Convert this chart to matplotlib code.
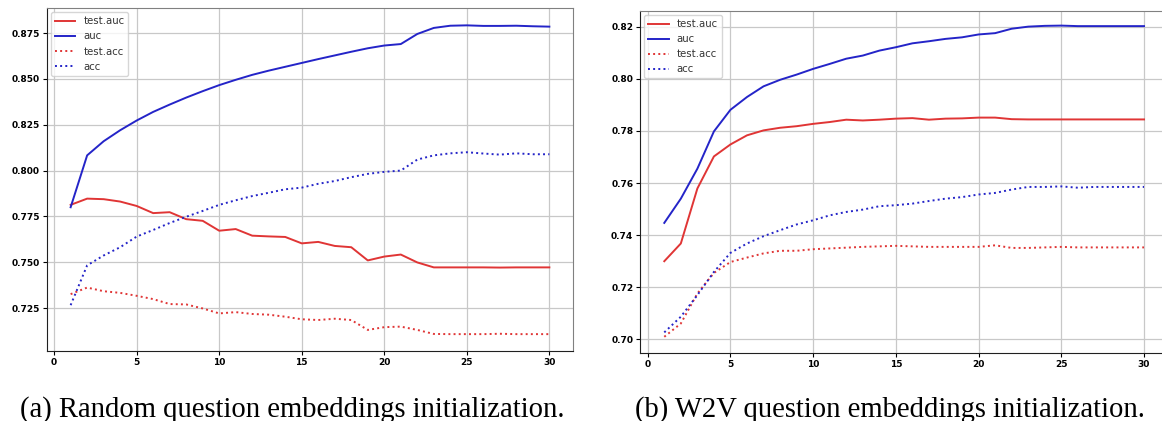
import numpy as np
import matplotlib
matplotlib.use("Agg")
import matplotlib.pyplot as plt

# ---------------------------------------------------------------------------
# Data (epochs 1..30)
# ---------------------------------------------------------------------------
epochs = list(range(1, 31))

# (a) random question embeddings
rand_test_auc = [0.7813, 0.7847, 0.7844, 0.7831, 0.7807, 0.7768, 0.7773, 0.7735, 0.7726, 0.7672,
                 0.7681, 0.7645, 0.7641, 0.7638, 0.7603, 0.7611, 0.7589, 0.7582, 0.7510, 0.7531,
                 0.7542, 0.7499, 0.7472, 0.7472, 0.7472, 0.7472, 0.7471, 0.7472, 0.7472, 0.7472]
rand_auc = [0.7800, 0.8083, 0.8160, 0.8220, 0.8273, 0.8320, 0.8360, 0.8398, 0.8433, 0.8466,
            0.8495, 0.8522, 0.8545, 0.8566, 0.8587, 0.8608, 0.8628, 0.8648, 0.8667, 0.8682,
            0.8690, 0.8745, 0.8778, 0.8790, 0.8792, 0.8789, 0.8789, 0.8790, 0.8787, 0.8785]
rand_test_acc = [0.7326, 0.7362, 0.7342, 0.7333, 0.7317, 0.7299, 0.7272, 0.7270, 0.7248, 0.7221,
                 0.7228, 0.7218, 0.7214, 0.7203, 0.7189, 0.7185, 0.7192, 0.7185, 0.7131, 0.7146,
                 0.7149, 0.7131, 0.7109, 0.7108, 0.7108, 0.7108, 0.7110, 0.7108, 0.7108, 0.7108]
rand_acc = [0.7266, 0.7483, 0.7537, 0.7582, 0.7640, 0.7676, 0.7714, 0.7748, 0.7780, 0.7813,
            0.7838, 0.7861, 0.7879, 0.7898, 0.7907, 0.7928, 0.7943, 0.7964, 0.7982, 0.7993,
            0.8000, 0.8060, 0.8083, 0.8094, 0.8100, 0.8093, 0.8087, 0.8094, 0.8089, 0.8089]

# (b) W2V question embeddings
w2v_test_auc = [0.7300, 0.7368, 0.7579, 0.7702, 0.7748, 0.7783, 0.7802, 0.7812, 0.7818, 0.7827,
                0.7834, 0.7843, 0.7840, 0.7843, 0.7847, 0.7849, 0.7843, 0.7847, 0.7848, 0.7851,
                0.7851, 0.7845, 0.7844, 0.7844, 0.7844, 0.7844, 0.7844, 0.7844, 0.7844, 0.7844]
w2v_auc = [0.7447, 0.7540, 0.7655, 0.7798, 0.7881, 0.7930, 0.7971, 0.7996, 0.8016, 0.8038,
           0.8057, 0.8077, 0.8089, 0.8108, 0.8121, 0.8136, 0.8144, 0.8153, 0.8159, 0.8170,
           0.8175, 0.8192, 0.8200, 0.8203, 0.8204, 0.8202, 0.8202, 0.8202, 0.8202, 0.8202]
w2v_test_acc = [0.7010, 0.7061, 0.7176, 0.7255, 0.7297, 0.7314, 0.7330, 0.7340, 0.7340, 0.7346,
                0.7349, 0.7352, 0.7355, 0.7357, 0.7359, 0.7357, 0.7355, 0.7355, 0.7355, 0.7355,
                0.7361, 0.7351, 0.7351, 0.7353, 0.7355, 0.7353, 0.7353, 0.7353, 0.7353, 0.7353]
w2v_acc = [0.7027, 0.7087, 0.7170, 0.7259, 0.7332, 0.7368, 0.7396, 0.7419, 0.7441, 0.7457,
           0.7476, 0.7489, 0.7498, 0.7511, 0.7515, 0.7521, 0.7531, 0.7540, 0.7546, 0.7556,
           0.7562, 0.7575, 0.7585, 0.7585, 0.7587, 0.7582, 0.7585, 0.7585, 0.7585, 0.7585]

captions = ["(a) Random question embeddings initialization.",
            "(b) W2V question embeddings initialization."]

C_RED = "#e03535"
C_BLUE = "#2424c8"

W, H = 1162, 421


def panel(ax, test_auc, auc, test_acc, acc, yticks, fmt):
    ax.plot(epochs, test_auc, color=C_RED, lw=1.4, label="test.auc")
    ax.plot(epochs, auc, color=C_BLUE, lw=1.4, label="auc")
    ax.plot(epochs, test_acc, color=C_RED, lw=1.4, ls=":", label="test.acc")
    ax.plot(epochs, acc, color=C_BLUE, lw=1.4, ls=":", label="acc")
    ax.set_xticks([0, 5, 10, 15, 20, 25, 30])
    ax.set_yticks(yticks)
    ax.set_yticklabels([fmt.format(v) for v in yticks])
    ax.tick_params(labelsize=6.5, length=3, width=0.8, pad=2)
    for lab in ax.get_xticklabels() + ax.get_yticklabels():
        lab.set_fontweight("bold")
    ax.grid(True, color="#c8c8c8", lw=0.9)
    ax.set_axisbelow(True)
    for s in ("top", "right"):
        ax.spines[s].set_color("#808080")
    for s in ("left", "bottom"):
        ax.spines[s].set_color("#202020")
    leg = ax.legend(loc="upper left", fontsize=7.3, framealpha=0.8,
                    borderaxespad=0.4, handlelength=2.0)
    for t in leg.get_texts():
        t.set_color("#333333")


fig = plt.figure(figsize=(W / 100, H / 100), dpi=100)

ax1 = fig.add_axes([46.7 / W, 1 - 351 / H, (573.3 - 46.7) / W, (351 - 8.3) / H])
panel(ax1, rand_test_auc, rand_auc, rand_test_acc, rand_acc,
      [0.725, 0.750, 0.775, 0.800, 0.825, 0.850, 0.875], "{:.3f}")
ax1.set_xlim(-0.45, 31.45)
ax1.set_ylim(0.7016, 0.8885)

ax2 = fig.add_axes([640.3 / W, 1 - 352.7 / H, (1168 - 640.3) / W, (352.7 - 11) / H])
panel(ax2, w2v_test_auc, w2v_auc, w2v_test_acc, w2v_acc,
      [0.70, 0.72, 0.74, 0.76, 0.78, 0.80, 0.82], "{:.2f}")
ax2.set_xlim(-0.45, 31.45)
ax2.set_ylim(0.6949, 0.8260)

fig.text(292 / W, 1 - 416.5 / H, captions[0], ha="center", va="baseline",
         family="Liberation Serif", fontsize=20.6)
fig.text(890 / W, 1 - 416.5 / H, captions[1], ha="center", va="baseline",
         family="Liberation Serif", fontsize=20.6)

fig.savefig("out.png", dpi=100)
